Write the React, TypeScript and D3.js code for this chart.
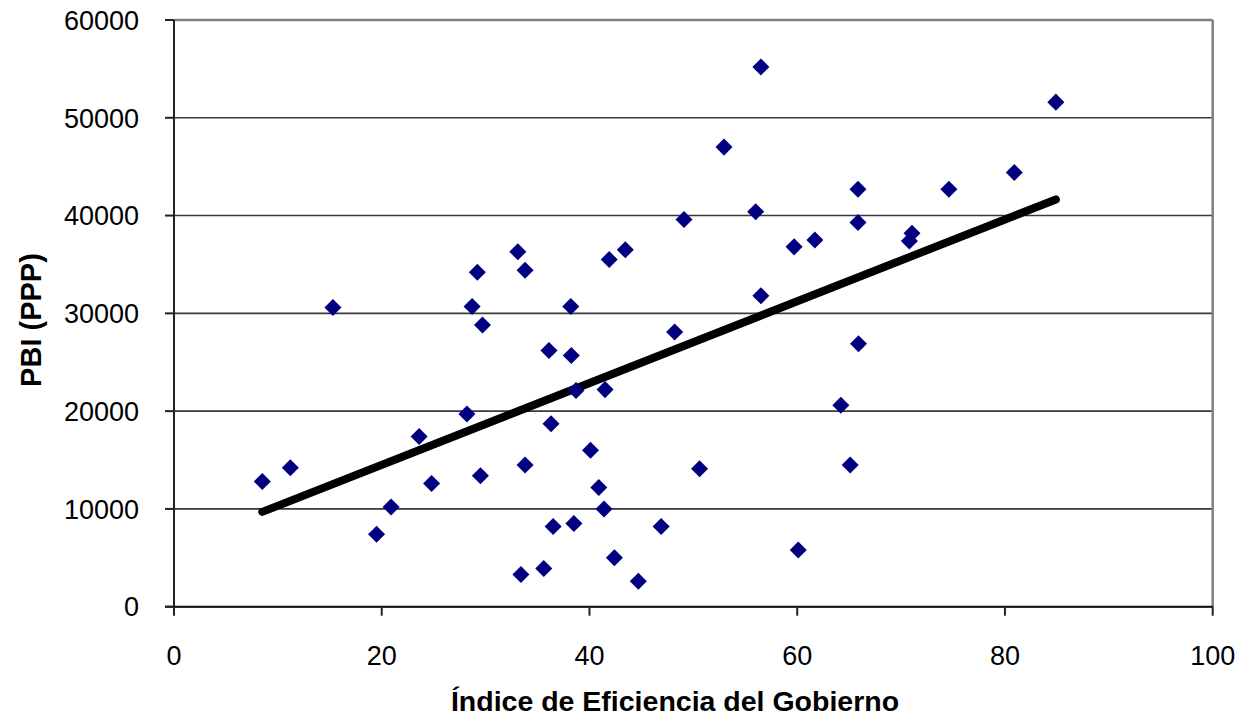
import * as d3 from "d3";

// Government efficiency index vs. GDP (PPP)
const efficiency = [
  8.5, 11.2, 15.3, 19.5, 20.9, 23.6, 24.8, 28.2, 28.7, 29.2, 29.5, 29.7, 33.1, 33.4, 33.8, 33.8, 35.6, 36.1,
  36.3, 36.5, 38.2, 38.25, 38.5, 38.7, 40.1, 40.9, 41.4, 41.5, 41.9, 42.4, 43.45, 44.7, 46.9, 48.2, 49.1,
  50.6, 52.95, 56.0, 56.5, 56.5, 59.7, 60.1, 61.7, 64.2, 65.1, 65.85, 65.85, 65.9, 70.8, 71.05, 74.6, 80.9,
  84.9,
];
const gdp = [
  12800, 14200, 30600, 7400, 10200, 17400, 12600, 19700, 30700, 34200, 13400, 28800, 36300, 3300, 34400,
  14500, 3900, 26200, 18700, 8200, 30700, 25700, 8500, 22100, 16000, 12200, 10000, 22200, 35500, 5000,
  36500, 2600, 8200, 28100, 39600, 14100, 47000, 40400, 55200, 31800, 36800, 5800, 37500, 20600, 14500,
  42700, 39300, 26900, 37400, 38200, 42700, 44400, 51600,
];
const trendX = [8.5, 84.9];
const trendY = [9700, 41650];
const xTicks = [0, 20, 40, 60, 80, 100];
const yTicks = [0, 10000, 20000, 30000, 40000, 50000, 60000];

const W = 1241;
const H = 719;
const font = "'Liberation Sans', Arial, sans-serif";

export default function App() {
  const x = d3.scaleLinear().domain([0, 100]).range([174, 1212.7]);
  const y = d3.scaleLinear().domain([0, 60000]).range([606.7, 20]);
  const line = d3
    .line<number>()
    .x((d) => x(d))
    .y((_, i) => y(trendY[i]));
  const diamond = d3.symbol(d3.symbolDiamond2, 185)();

  return (
    <svg
      width={W}
      height={H}
      style={{ position: "absolute", left: 0, top: 0, background: "#fff" }}
    >
      {/* grid */}
      {yTicks.map((t) => (
        <line
          key={"g" + t}
          x1={x(0)}
          x2={x(100)}
          y1={y(t)}
          y2={y(t)}
          stroke={t === 60000 ? "#808080" : "#3a3a3a"}
          strokeWidth={t === 60000 ? 2.5 : 1.6}
        />
      ))}
      <line x1={x(100)} x2={x(100)} y1={y(60000)} y2={y(0)} stroke="#808080" strokeWidth={2.5} />
      {/* axes */}
      <line x1={x(0)} x2={x(0)} y1={y(60000)} y2={y(0)} stroke="#222" strokeWidth={2} />
      <line x1={x(0) - 9} x2={x(100)} y1={y(0)} y2={y(0)} stroke="#111" strokeWidth={2} />
      {yTicks.map((t) => (
        <g key={"y" + t}>
          <line x1={x(0) - 9} x2={x(0)} y1={y(t)} y2={y(t)} stroke="#222" strokeWidth={2} />
          <text
            x={139}
            y={y(t)}
            dy="0.36em"
            textAnchor="end"
            fontFamily={font}
            fontSize={27}
            fill="#000"
          >
            {t}
          </text>
        </g>
      ))}
      {xTicks.map((t) => (
        <g key={"x" + t}>
          <line x1={x(t)} x2={x(t)} y1={y(0)} y2={y(0) + 9} stroke="#222" strokeWidth={2} />
          <text x={x(t)} y={665} textAnchor="middle" fontFamily={font} fontSize={27} fill="#000">
            {t}
          </text>
        </g>
      ))}
      {/* trend line */}
      <path
        d={line(trendX) || ""}
        fill="none"
        stroke="#000"
        strokeWidth={8}
        strokeLinecap="round"
      />
      {/* points */}
      {efficiency.map((e, i) => (
        <path
          key={i}
          d={diamond || ""}
          transform={`translate(${x(e)},${y(gdp[i])})`}
          fill="#000080"
        />
      ))}
      {/* titles */}
      <text
        x={675}
        y={711}
        textAnchor="middle"
        fontFamily={font}
        fontSize={28.5}
        fontWeight="bold"
        fill="#000"
      >
        Índice de Eficiencia del Gobierno
      </text>
      <text
        transform="translate(41,320) rotate(-90)"
        textAnchor="middle"
        fontFamily={font}
        fontSize={29}
        fontWeight="bold"
        fill="#000"
      >
        PBI (PPP)
      </text>
    </svg>
  );
}
